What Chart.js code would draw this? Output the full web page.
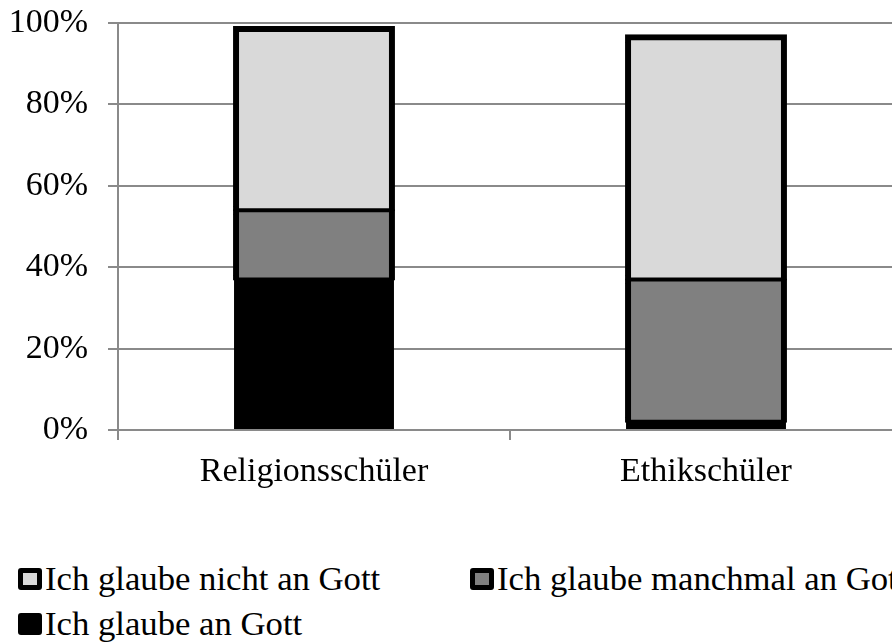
<!DOCTYPE html>
<html lang="de">
<head>
<meta charset="utf-8">
<title>Glaube an Gott</title>
<script src="https://cdn.jsdelivr.net/npm/chart.js@4.4.1/dist/chart.umd.min.js"></script>
<style>
    html, body { margin: 0; padding: 0; background: #fff; overflow: hidden; }
    body { width: 892px; height: 642px; position: relative; }
    #chartWrap { position: absolute; left: 0; top: 0; width: 910px; height: 500px; }
    #legend {
        position: absolute; left: 18px; top: 556px; width: 910px;
        display: flex; flex-wrap: wrap;
        font-family: 'Liberation Serif', 'Times New Roman', serif; font-size: 34.7px; color: #000;
    }
    .legend-item { display: flex; align-items: center; width: 452px; height: 45px; line-height: 35px; white-space: nowrap; }
    .legend-box { box-sizing: border-box; width: 24px; height: 22px; border: 5px solid #000; border-radius: 3px; margin-right: 3px; }
</style>
</head>
<body>
<div id="chartWrap"><canvas id="glaubeChart"></canvas></div>
<div id="legend"></div>

<script>
"use strict";

/* data */
var categories = ['Religionsschüler', 'Ethikschüler'];
var glaubeAnGott = [37, 2];
var glaubeManchmal = [17, 35];
var glaubeNicht = [45, 60];
var yTicks = [0, 20, 40, 60, 80, 100];

var gridColor = '#8a8a8a';
var serif = "'Liberation Serif', 'Times New Roman', serif";

document.addEventListener("DOMContentLoaded", function () {

    Chart.defaults.font.family = serif;
    Chart.defaults.color = '#000';

    var ctx = document.getElementById('glaubeChart').getContext('2d');
    var config = {
        type: 'bar',
        data: {
            labels: categories,
            datasets: [{
                label: 'Ich glaube an Gott',
                data: glaubeAnGott,
                backgroundColor: '#000000',
                borderColor: '#000000',
                borderWidth: 0,
                inflateAmount: 0,
            }, {
                label: 'Ich glaube manchmal an Gott',
                data: glaubeManchmal,
                backgroundColor: '#808080',
                borderColor: '#000000',
                borderWidth: { left: 6, right: 6, top: 3, bottom: 3 },
                borderSkipped: false,
                inflateAmount: 1,
            }, {
                label: 'Ich glaube nicht an Gott',
                data: glaubeNicht,
                backgroundColor: '#d9d9d9',
                borderColor: '#000000',
                borderWidth: { left: 6, right: 6, top: 6, bottom: 3 },
                borderSkipped: false,
                inflateAmount: 1,
            }]
        },
        options: {
            responsive: true,
            maintainAspectRatio: false,
            animation: false,
            barPercentage: 0.408,
            categoryPercentage: 1,
            layout: {
                padding: { top: 23, right: 8, left: 0, bottom: 0 }
            },
            plugins: {
                legend: { display: false },
                tooltip: { enabled: false },
            },
            scales: {
                x: {
                    stacked: true,
                    afterFit: function (scale) { scale.height = 70; },
                    grid: {
                        offset: true,
                        drawOnChartArea: false,
                        tickLength: 10,
                        color: gridColor,
                        lineWidth: 2,
                    },
                    border: { color: gridColor, width: 2 },
                    ticks: {
                        padding: 12,
                        font: { size: 34, family: serif },
                        color: '#000',
                    }
                },
                y: {
                    stacked: true,
                    min: yTicks[0],
                    max: yTicks[yTicks.length - 1],
                    afterFit: function (scale) {
                        scale.width = 118;
                        scale.paddingTop = 0;
                        scale.paddingBottom = 0;
                    },
                    afterBuildTicks: function (scale) {
                        scale.ticks = yTicks.map(function (v) { return { value: v }; });
                    },
                    grid: {
                        tickLength: 10,
                        color: gridColor,
                        lineWidth: 2,
                    },
                    border: { color: gridColor, width: 2 },
                    ticks: {
                        padding: 20,
                        font: { size: 34, family: serif },
                        color: '#000',
                        callback: function (v) { return v + '%'; }
                    }
                }
            }
        }
    };
    var glaubeChart = new Chart(ctx, config);

    /* legend, reversed like the stack */
    var legend = document.getElementById('legend');
    glaubeChart.data.datasets.slice().reverse().forEach(function (ds) {
        var item = document.createElement('div');
        item.className = 'legend-item';
        var box = document.createElement('span');
        box.className = 'legend-box';
        box.style.background = ds.backgroundColor;
        var text = document.createElement('span');
        text.textContent = ds.label;
        item.appendChild(box);
        item.appendChild(text);
        legend.appendChild(item);
    });
});
</script>
</body>
</html>
